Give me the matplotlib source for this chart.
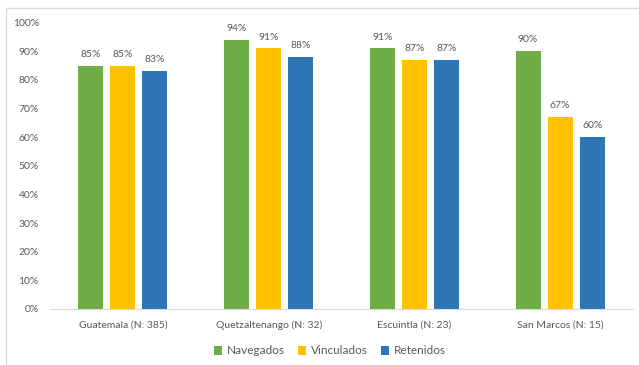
import matplotlib.pyplot as plt
import matplotlib.patches as mpatches
import numpy as np

plt.rcParams["font.family"] = ["Lato", "DejaVu Sans"]

regions = ["Guatemala (N: 385)", "Quetzaltenango (N: 32)", "Escuintla (N: 23)", "San Marcos (N: 15)"]
navegados = [0.85, 0.94, 0.91, 0.90]
vinculados = [0.85, 0.91, 0.87, 0.67]
retenidos = [0.83, 0.88, 0.87, 0.60]

series = [("Navegados", navegados, "#70AD47"),
          ("Vinculados", vinculados, "#FFC000"),
          ("Retenidos", retenidos, "#2E75B6")]

text_color = "#595959"

fig = plt.figure(figsize=(6.39, 3.65), dpi=100)
ax = fig.add_axes([50 / 639, 1 - 309 / 365, 583 / 639, (309 - 22.7) / 365])

x = np.arange(len(regions))
width = 0.172
step = 0.22
for i, (name, vals, color) in enumerate(series):
    pos = x + (i - 1) * step
    bars = ax.bar(pos, vals, width, color=color, label=name, zorder=2)
    for b, v in zip(bars, vals):
        ax.annotate(f"{v:.0%}", (b.get_x() + b.get_width() / 2, v),
                    xytext=(0, 5), textcoords="offset points",
                    ha="center", va="bottom", fontsize=7.5, color=text_color)

ax.set_xlim(-0.5, len(regions) - 0.5)
ax.set_ylim(0, 1.0)
ax.set_yticks(np.arange(0, 1.01, 0.1))
ax.set_yticklabels([f"{int(round(t * 100))}%" for t in np.arange(0, 1.01, 0.1)])
ax.set_xticks(x)
ax.set_xticklabels(regions)
ax.tick_params(axis="both", length=0, labelsize=7.5, colors=text_color)
ax.tick_params(axis="y", pad=8)
ax.tick_params(axis="x", pad=8)

for side in ["top", "right", "left"]:
    ax.spines[side].set_visible(False)
ax.spines["bottom"].set_color("#D9D9D9")

fig.legend(loc="center", bbox_to_anchor=(330 / 639, 1 - 351 / 365), ncol=3,
           frameon=False, fontsize=8.5, handlelength=0.7, handleheight=0.7,
           handletextpad=0.4, columnspacing=1.1, labelcolor=text_color)

# chart frame
fig.patches.append(mpatches.Rectangle((6 / 639, -0.1), 1.2, 1 - 8 / 365 + 0.1,
                                      transform=fig.transFigure, fill=False,
                                      edgecolor="#D9D9D9", linewidth=1))

fig.savefig("out.png", dpi=100)
